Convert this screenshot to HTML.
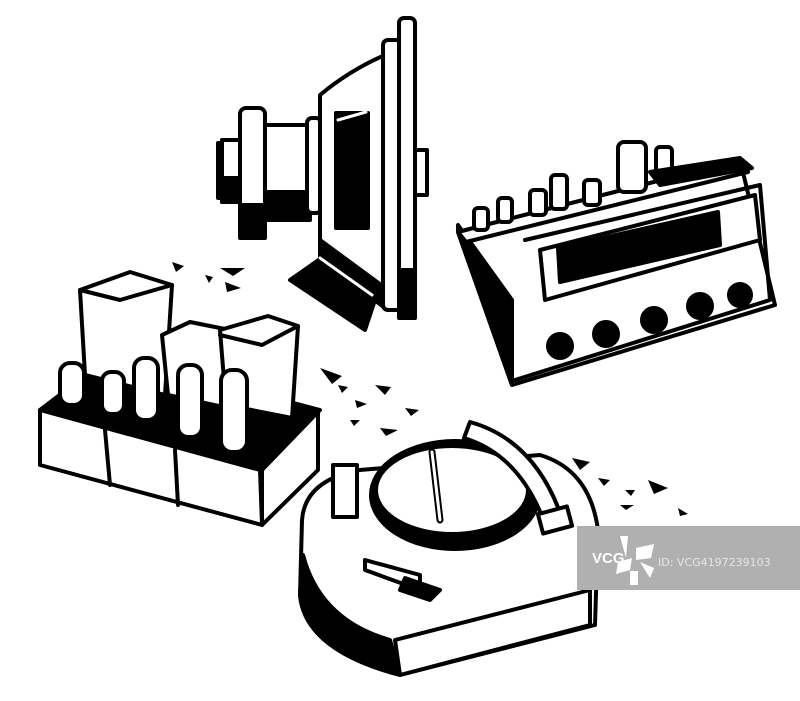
<!DOCTYPE html>
<html><head><meta charset="utf-8"><style>
html,body{margin:0;padding:0;background:#fff}
svg{display:block}
</style></head><body>
<svg width="800" height="701" viewBox="0 0 800 701" xmlns="http://www.w3.org/2000/svg" stroke-linejoin="round" stroke-linecap="round">
<g fill="#fff" stroke="#000" stroke-width="4">
<!-- SPEAKER -->
<rect x="218" y="143" width="20" height="55" />
<rect x="222" y="140" width="25" height="62" fill="#fff"/>
<rect x="222" y="178" width="25" height="24" fill="#000"/>
<rect x="240" y="108" width="25" height="130" rx="6"/>
<rect x="240" y="205" width="25" height="33" fill="#000"/>
<rect x="265" y="125" width="45" height="70"/>
<rect x="265" y="192" width="45" height="28" fill="#000"/>
<rect x="307" y="118" width="14" height="95" rx="5"/>
<path d="M320 95 Q350 70 385 55 L388 300 L320 255 Z"/>
<rect x="336" y="113" width="32" height="115" fill="#000"/>
<path d="M338 120 L366 112" stroke="#fff" stroke-width="3"/>
<path d="M320 240 L388 290 L388 310 L320 260Z" fill="#000"/>
<path d="M290 280 L330 252 L380 285 L365 330 Z" fill="#000"/>
<path d="M320 258 L372 295" stroke="#fff" stroke-width="3"/>
<rect x="383" y="40" width="18" height="270" rx="5"/>
<rect x="399" y="18" width="16" height="300" rx="5"/>
<rect x="399" y="270" width="16" height="48" fill="#000"/>
<rect x="415" y="150" width="12" height="45"/>
<!-- RADIO -->
<path d="M458 232 L740 160 L775 305 L512 385 Z"/>
<path d="M458 232 L512 385 L512 300 L458 225Z" fill="#000"/>
<path d="M458 232 L740 160 L748 172 L466 242Z" fill="#fff"/>
<path d="M525 240 L760 185 L770 300 L515 380" fill="none"/>
<path d="M540 250 L755 195 L760 240 L545 300Z" fill="#fff"/>
<path d="M558 248 L718 212 L720 245 L560 282Z" fill="#000"/>
<g fill="#000"><circle cx="560" cy="346" r="12"/><circle cx="606" cy="334" r="12"/><circle cx="654" cy="320" r="12"/><circle cx="700" cy="306" r="12"/><circle cx="740" cy="295" r="11"/></g>
<rect x="474" y="208" width="14" height="22" rx="4"/>
<rect x="498" y="198" width="14" height="24" rx="4"/>
<rect x="530" y="190" width="16" height="25" rx="4"/>
<rect x="551" y="175" width="16" height="34" rx="4"/>
<rect x="584" y="180" width="16" height="25" rx="4"/>
<rect x="618" y="142" width="28" height="50" rx="6"/>
<rect x="656" y="147" width="16" height="30" rx="4"/>
<path d="M650 172 L740 158 L752 168 L660 185Z" fill="#000"/>
<!-- AMPLIFIER -->
<path d="M40 410 L260 470 L320 410 L112 355Z" fill="#000"/>
<path d="M40 410 L260 470 L262 525 L40 465Z"/>
<path d="M262 470 L318 412 L318 470 L262 525Z"/>
<path d="M105 430 L110 485 M175 450 L178 505" fill="none"/>
<path d="M80 290 L130 272 L172 285 L165 395 L85 375Z"/>
<path d="M80 290 L120 300 L172 285" fill="none"/>
<path d="M162 335 L190 322 L230 330 L228 408 L168 395Z"/>
<path d="M220 330 L268 316 L298 326 L292 418 L226 405Z"/>
<path d="M220 335 L262 345 L298 326" fill="none"/>
<rect x="60" y="363" width="24" height="42" rx="10"/>
<rect x="102" y="372" width="22" height="42" rx="9"/>
<rect x="134" y="358" width="24" height="62" rx="10"/>
<rect x="178" y="365" width="24" height="72" rx="10"/>
<rect x="221" y="370" width="26" height="82" rx="11"/>
<!-- TURNTABLE -->
<path d="M302 520 Q305 480 360 470 L540 455 Q590 470 598 530 L595 625 L400 675 Q305 650 300 595Z"/>
<path d="M303 555 Q320 620 390 640 L400 675 Q305 650 300 595Z" fill="#000"/>
<path d="M395 640 L590 590 L590 625 L400 675Z"/>
<ellipse cx="455" cy="495" rx="84" ry="54" fill="#000"/>
<ellipse cx="452" cy="490" rx="76" ry="44"/>
<path d="M432 452 L440 520" stroke-width="7"/>
<path d="M432 452 L440 520" stroke="#fff" stroke-width="3"/>
<path d="M470 422 Q535 440 562 518 L545 524 Q520 455 464 438Z" fill="#fff"/>
<rect x="333" y="465" width="24" height="52"/>
<rect x="540" y="510" width="30" height="20" transform="rotate(-15 555 520)"/>
<path d="M365 560 L420 575 L420 590 L365 570Z" />
<path d="M405 578 L440 590 L430 600 L400 590Z" fill="#000"/>
</g>
<!-- debris -->
<g fill="#000">
<path d="M172 262 l12 4 l-8 6z"/><path d="M220 268 l25 0 l-12 8z"/><path d="M205 275 l8 2 l-4 6z"/><path d="M225 282 l16 6 l-14 4z"/>
<path d="M320 368 l22 8 l-10 8z"/><path d="M338 385 l10 2 l-6 6z"/><path d="M375 385 l16 2 l-6 8z"/><path d="M355 400 l12 4 l-10 4z"/><path d="M405 408 l14 2 l-8 6z"/><path d="M380 428 l18 2 l-12 6z"/><path d="M350 420 l10 0 l-6 6z"/>
<path d="M572 458 l18 4 l-10 8z"/><path d="M598 478 l12 2 l-6 6z"/><path d="M648 480 l20 8 l-14 6z"/><path d="M625 490 l10 0 l-4 6z"/><path d="M678 508 l10 6 l-8 2z"/><path d="M620 505 l14 0 l-8 5z"/>
</g>
<!-- watermark -->
<rect x="577" y="526" width="223" height="64" fill="#b0b0b0"/>
<g fill="#fff">
<path d="M620 536 l8 0 l-2 22 z"/><path d="M636 548 l18 -4 l-3 14 l-15 2z"/><path d="M618 562 l14 -4 l-2 12 l-14 4z"/><path d="M630 571 l8 0 l0 14 l-8 0z"/><path d="M640 562 l14 6 l-4 10 z"/>
</g>
<text x="592" y="563" font-family="Liberation Sans, sans-serif" font-weight="bold" font-size="15" fill="#fff">VCG</text>
<text x="658" y="566" font-family="DejaVu Sans, sans-serif" font-size="11" fill="#e6e6e6">ID: VCG4197239103</text>
</svg>
</body></html>
